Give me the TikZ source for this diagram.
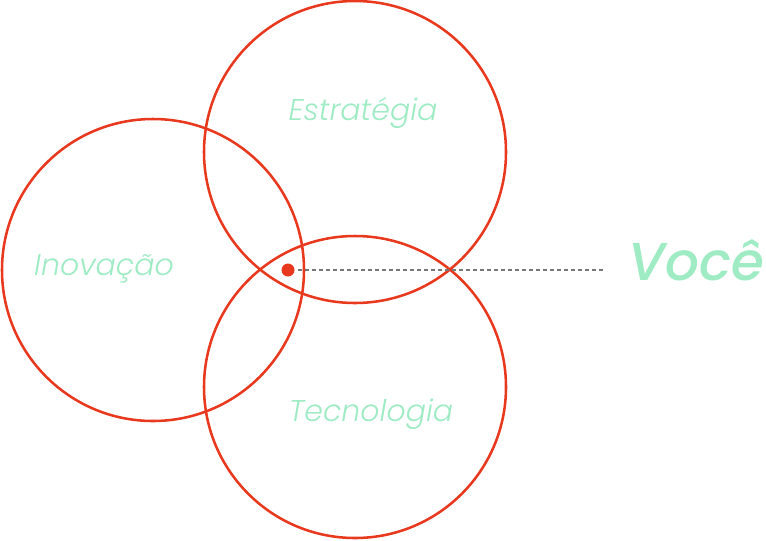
\documentclass[tikz,border=0pt]{standalone}
\usepackage{fontspec}
\newfontfamily\lightfont{Poppins Light Italic}
\newfontfamily\boldfont{Poppins Medium Italic}
\definecolor{ringred}{HTML}{E8391E}
\definecolor{mint}{HTML}{9EEBC4}
\definecolor{dashgray}{HTML}{777777}
\tikzset{
  ring/.style={draw=ringred, line width=1.9pt},
  area/.style={text=mint, font=\lightfont\fontsize{22.5}{27}\selectfont, inner sep=0pt},
}

\begin{document}
\begin{tikzpicture}[x=0.75pt,y=-0.75pt]
  \useasboundingbox (0,0) rectangle (766,540);
  % circles
  \node[ring, circle, minimum size=302*0.75pt] (left) at (153,270) {};
  \node[ring, circle, minimum size=302*0.75pt] (top) at (355,152) {};
  \node[ring, circle, minimum size=302*0.75pt] (bottom) at (355,387) {};
  % labels
  \node[area] (estrategia) at (363,113) {Estratégia};
  \node[area] (inovacao) at (104,269) {Inovação};
  \node[area] (tecnologia) at (371,414) {Tecnologia};
  % you
  \node[fill=ringred, circle, inner sep=0pt, minimum size=13*0.75pt] (dot) at (288,270) {};
  \coordinate (linestart) at (298,270);
  \coordinate (lineend) at (605,270);
  \draw[dashgray, line width=0.9pt, dash pattern=on 3pt off 2.25pt] (linestart) -- (lineend);
  \node[text=mint, font=\boldfont\fontsize{40}{48}\selectfont, inner sep=0pt, anchor=west] (voce) at (628,260) {Você};
\end{tikzpicture}
\end{document}
